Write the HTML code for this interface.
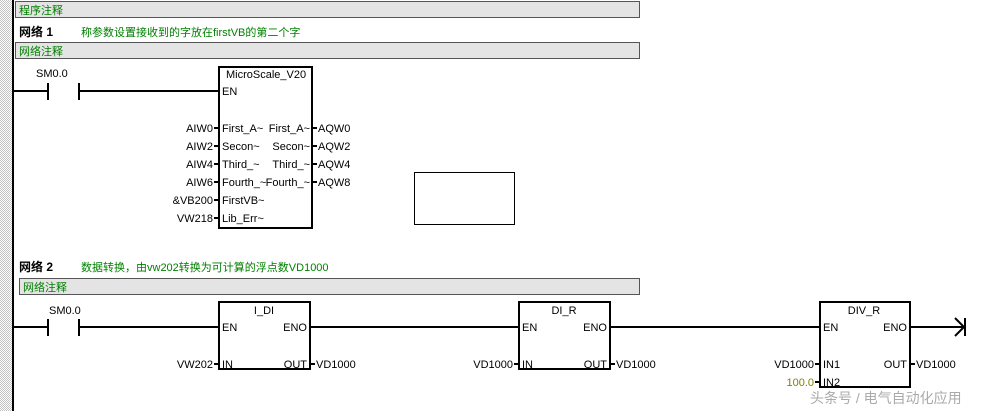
<!DOCTYPE html>
<html><head><meta charset="utf-8"><style>
html,body{margin:0;padding:0;background:#fff;}
svg{display:block;}
text{font-family:"Liberation Sans","Noto Sans CJK SC",sans-serif;font-size:11px;fill:#000;}
.g{fill:#008000;}
.b{font-weight:bold;}
</style></head><body>
<svg width="990" height="411" viewBox="0 0 990 411" xmlns="http://www.w3.org/2000/svg">
<defs><pattern id="ck" width="2" height="2" patternUnits="userSpaceOnUse"><rect width="2" height="2" fill="#fff"/><rect width="1" height="1" fill="#c0c0c0"/><rect x="1" y="1" width="1" height="1" fill="#c0c0c0"/></pattern></defs>
<rect x="0" y="0" width="12" height="411" fill="url(#ck)"/>
<rect x="12" y="0" width="2" height="411" fill="#000"/>
<!-- comment bars -->
<rect x="15.5" y="1.5" width="624" height="16" fill="#e4e4e4" stroke="#555"/>
<text x="19" y="14" class="g">程序注释</text>
<text x="19" y="36" class="b" style="font-size:12px">网络 1</text>
<text x="81" y="36" class="g">称参数设置接收到的字放在firstVB的第二个字</text>
<rect x="15.5" y="42.5" width="624" height="16" fill="#e4e4e4" stroke="#555"/>
<text x="19" y="55" class="g">网络注释</text>
<!-- rung 1 -->
<text x="36" y="77">SM0.0</text>
<g stroke="#000" stroke-width="2" fill="none">
<line x1="14" y1="91" x2="48" y2="91"/><line x1="48" y1="83" x2="48" y2="100"/>
<line x1="79" y1="83" x2="79" y2="100"/><line x1="79" y1="91" x2="219" y2="91"/>
<rect x="219" y="67" width="93" height="161"/>
</g>
<text x="226" y="78">MicroScale_V20</text>
<text x="222" y="95">EN</text>
<g stroke="#000" stroke-width="2">
<line x1="214" y1="128" x2="219" y2="128"/><line x1="214" y1="146" x2="219" y2="146"/>
<line x1="214" y1="164" x2="219" y2="164"/><line x1="214" y1="182" x2="219" y2="182"/>
<line x1="214" y1="200" x2="219" y2="200"/><line x1="214" y1="218" x2="219" y2="218"/>
<line x1="312" y1="128" x2="317" y2="128"/><line x1="312" y1="146" x2="317" y2="146"/>
<line x1="312" y1="164" x2="317" y2="164"/><line x1="312" y1="182" x2="317" y2="182"/>
</g>
<g text-anchor="end">
<text x="213" y="132">AIW0</text><text x="213" y="150">AIW2</text><text x="213" y="168">AIW4</text>
<text x="213" y="186">AIW6</text><text x="213" y="204">&amp;VB200</text><text x="213" y="222">VW218</text>
<text x="310" y="132">First_A~</text><text x="310" y="150">Secon~</text><text x="310" y="168">Third_~</text><text x="310" y="186">Fourth_~</text>
</g>
<text x="222" y="132">First_A~</text><text x="222" y="150">Secon~</text><text x="222" y="168">Third_~</text>
<text x="222" y="186">Fourth_~</text><text x="222" y="204">FirstVB~</text><text x="222" y="222">Lib_Err~</text>
<text x="318" y="132">AQW0</text><text x="318" y="150">AQW2</text><text x="318" y="168">AQW4</text><text x="318" y="186">AQW8</text>
<rect x="414.5" y="172.5" width="100" height="52" fill="none" stroke="#000"/>
<!-- network 2 -->
<text x="19" y="271" class="b" style="font-size:12px">网络 2</text>
<text x="81" y="271" class="g">数据转换，由vw202转换为可计算的浮点数VD1000</text>
<rect x="19.5" y="278.5" width="620" height="16" fill="#e4e4e4" stroke="#555"/>
<text x="23" y="291" class="g">网络注释</text>
<text x="49" y="314">SM0.0</text>
<g stroke="#000" stroke-width="2" fill="none">
<line x1="14" y1="327" x2="48" y2="327"/><line x1="48" y1="319" x2="48" y2="336"/>
<line x1="79" y1="319" x2="79" y2="336"/><line x1="79" y1="327" x2="219" y2="327"/>
<rect x="219" y="302" width="91" height="67"/>
<line x1="310" y1="327" x2="519" y2="327"/>
<rect x="519" y="302" width="91" height="67"/>
<line x1="610" y1="327" x2="820" y2="327"/>
<rect x="820" y="302" width="90" height="85"/>
<line x1="910" y1="327" x2="965" y2="327"/>
<line x1="965" y1="318" x2="965" y2="336"/>
<polyline points="955,318 964,327 955,336"/>
<line x1="214" y1="364" x2="219" y2="364"/><line x1="310" y1="364" x2="315" y2="364"/>
<line x1="514" y1="364" x2="519" y2="364"/><line x1="610" y1="364" x2="615" y2="364"/>
<line x1="815" y1="364" x2="820" y2="364"/><line x1="815" y1="382" x2="820" y2="382"/>
<line x1="910" y1="364" x2="915" y2="364"/>
</g>
<text x="264" y="314" text-anchor="middle">I_DI</text>
<text x="222" y="331">EN</text><text x="307" y="331" text-anchor="end">ENO</text>
<text x="222" y="368">IN</text><text x="307" y="368" text-anchor="end">OUT</text>
<text x="213" y="368" text-anchor="end">VW202</text><text x="316" y="368">VD1000</text>
<text x="564" y="314" text-anchor="middle">DI_R</text>
<text x="522" y="331">EN</text><text x="607" y="331" text-anchor="end">ENO</text>
<text x="522" y="368">IN</text><text x="607" y="368" text-anchor="end">OUT</text>
<text x="513" y="368" text-anchor="end">VD1000</text><text x="616" y="368">VD1000</text>
<text x="864" y="314" text-anchor="middle">DIV_R</text>
<text x="823" y="331">EN</text><text x="907" y="331" text-anchor="end">ENO</text>
<text x="823" y="368">IN1</text><text x="823" y="386">IN2</text><text x="907" y="368" text-anchor="end">OUT</text>
<text x="814" y="368" text-anchor="end">VD1000</text><text x="814" y="386" text-anchor="end" style="fill:#808000">100.0</text>
<text x="916" y="368">VD1000</text>
<text x="810" y="403" style="fill:#aaa;font-size:14px">头条号 / 电气自动化应用</text>
</svg>
</body></html>
